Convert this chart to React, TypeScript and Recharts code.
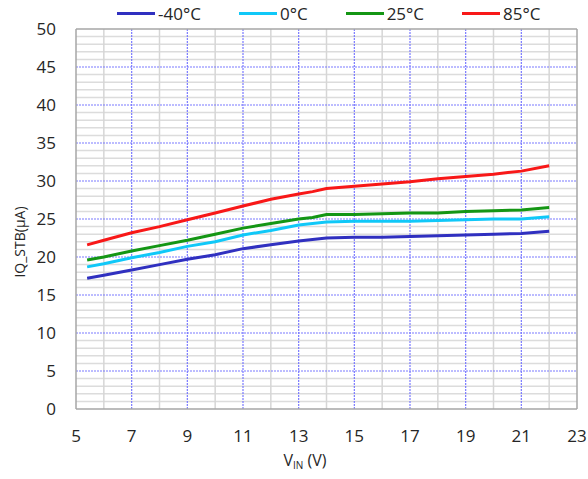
import { LineChart, Line, XAxis, YAxis, ReferenceLine } from 'recharts'

const vin = [5.4, 6, 7, 8, 9, 10, 11, 12, 13, 13.5, 14, 15, 16, 17, 18, 19, 20, 21, 22]
const tMinus40 = [17.2, 17.6, 18.3, 19.0, 19.7, 20.3, 21.1, 21.6, 22.1, 22.3, 22.5, 22.6, 22.6, 22.7, 22.8, 22.9, 23.0, 23.1, 23.4]
const t0 = [18.7, 19.1, 19.9, 20.6, 21.4, 22.0, 22.9, 23.5, 24.2, 24.4, 24.6, 24.7, 24.7, 24.7, 24.8, 24.9, 25.0, 25.0, 25.3]
const t25 = [19.6, 20.0, 20.8, 21.5, 22.2, 23.0, 23.8, 24.4, 25.0, 25.2, 25.6, 25.6, 25.7, 25.8, 25.8, 26.0, 26.1, 26.2, 26.5]
const t85 = [21.6, 22.2, 23.2, 24.0, 24.9, 25.8, 26.7, 27.6, 28.3, 28.6, 29.0, 29.3, 29.6, 29.9, 30.3, 30.6, 30.9, 31.3, 32.0]

const xTicks = [5, 7, 9, 11, 13, 15, 17, 19, 21, 23]
const yTicks = [0, 5, 10, 15, 20, 25, 30, 35, 40, 45, 50]
const xMinor = [6, 8, 10, 12, 14, 16, 18, 20, 22]
const yMinor = Array.from({ length: 49 }, (_, i) => i + 1).filter(v => v % 5 !== 0)

const series = [
  { key: 'm40', name: '-40°C', color: '#3030c0', values: tMinus40 },
  { key: 'z0', name: '0°C', color: '#10c8f8', values: t0 },
  { key: 'p25', name: '25°C', color: '#149614', values: t25 },
  { key: 'p85', name: '85°C', color: '#f81818', values: t85 },
]

const data = vin.map((v, i) => {
  const row: Record<string, number> = { vin: v }
  series.forEach(s => { row[s.key] = s.values[i] })
  return row
})

const font = '"Open Sans", sans-serif'
const grey = '#a6a6a6'

const App = () => {
  return (
    <div style={{ position: 'absolute', left: 0, top: 0, width: 588, height: 479, background: '#fff', fontFamily: font }}>
      <LineChart width={588} height={479} data={data} margin={{ top: 29, right: 11, bottom: 0, left: 0 }}>
        {yMinor.map(y => (
          <ReferenceLine key={'ym' + y} y={y} stroke='#dcdcdc' strokeWidth={1.5} />
        ))}
        {xMinor.map(x => (
          <ReferenceLine key={'xm' + x} x={x} stroke='#d6d6d6' strokeWidth={1.5} />
        ))}
        {yTicks.slice(1, -1).map(y => (
          <ReferenceLine key={'yM' + y} y={y} stroke='#7a7aff' strokeWidth={1.2} strokeDasharray='2 1' />
        ))}
        {xTicks.slice(1, -1).map(x => (
          <ReferenceLine key={'xM' + x} x={x} stroke='#7a7aff' strokeWidth={1.2} strokeDasharray='2 1' />
        ))}
        <ReferenceLine y={50} stroke={grey} strokeWidth={1.5} />
        <ReferenceLine x={23} stroke={grey} strokeWidth={1.5} />
        <XAxis
          type='number'
          dataKey='vin'
          domain={[5, 23]}
          ticks={xTicks}
          tickLine={false}
          tickSize={0}
          tickMargin={21}
          height={70}
          stroke={grey}
          strokeWidth={1.5}
          tick={{ fill: '#262626', fontSize: 17, fontFamily: font }}
          interval={0}
        />
        <YAxis
          type='number'
          domain={[0, 50]}
          ticks={yTicks}
          tickLine={false}
          tickSize={0}
          tickMargin={20}
          width={76}
          stroke={grey}
          strokeWidth={1.5}
          tick={{ fill: '#262626', fontSize: 17, fontFamily: font }}
          interval={0}
        />
        {series.map(s => (
          <Line
            key={s.key}
            dataKey={s.key}
            name={s.name}
            stroke={s.color}
            strokeWidth={3}
            dot={false}
            isAnimationActive={false}
          />
        ))}
        <text x={305} y={466} textAnchor='middle' fill='#262626' fontSize={16} fontFamily={font}>
          V<tspan fontSize={10} dy={3}>IN</tspan><tspan dy={-3}> (V)</tspan>
        </text>
        <text
          x={25}
          y={242}
          transform='rotate(-90 25 242)'
          textAnchor='middle'
          fill='#262626'
          fontSize={14}
          fontFamily={font}
        >
          IQ_STB(μA)
        </text>
      </LineChart>
      <div style={{ position: 'absolute', top: 2, left: 117, display: 'flex', gap: 38 }}>
        {series.map(s => (
          <div key={s.key} style={{ display: 'flex', alignItems: 'center', fontSize: 17, color: '#262626', whiteSpace: 'nowrap' }}>
            <span style={{ display: 'inline-block', width: 38, height: 3, background: s.color, marginRight: 3 }} />
            {s.name}
          </div>
        ))}
      </div>
    </div>
  )
}

export default App
